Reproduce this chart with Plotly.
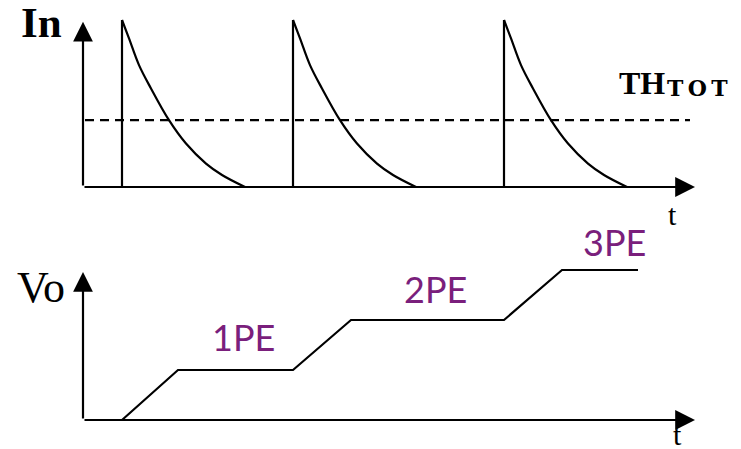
import plotly.graph_objects as go

# ---- data -------------------------------------------------------------
# Input current pulses: start times and a single pulse decay profile
pulse_starts = [3.9, 21.0, 42.1]
decay_dt = [0.0, 0.7, 1.7, 2.9, 4.7, 6.4, 8.4, 10.0, 12.3]
decay_amp = [1.0, 0.89, 0.73, 0.59, 0.40, 0.26, 0.14, 0.072, 0.0]
threshold = 0.40
threshold_end = 60.7

# Integrated output: staircase in photo-electron units
stair_t = [3.9, 9.5, 21.0, 26.8, 42.1, 47.9, 55.5]
stair_pe = [0, 1, 1, 2, 2, 3, 3]
pe_labels = ["1PE", "2PE", "3PE"]
pe_label_t = [16.0, 35.2, 53.1]
pe_label_y = [1.67, 2.62, 3.57]

axis_t_end = 61.2
top_axis_y_end = 0.99
bottom_axis_y_end = 2.96

# ---- layout geometry -----------------------------------------------------
W, H = 741, 449
PX_PER_T = 10.0
ORIGIN_PX = 83.0
TOP_BASE_PX, TOP_PX_PER_UNIT = 187.0, 167.0
BOT_BASE_PX, BOT_PX_PER_PE = 420.0, 50.0
SPLIT_PX = H / 2

x_range = [(0 - ORIGIN_PX) / PX_PER_T, (W - ORIGIN_PX) / PX_PER_T]
top_range = [(TOP_BASE_PX - SPLIT_PX) / TOP_PX_PER_UNIT, TOP_BASE_PX / TOP_PX_PER_UNIT]
bot_range = [(BOT_BASE_PX - H) / BOT_PX_PER_PE, (BOT_BASE_PX - SPLIT_PX) / BOT_PX_PER_PE]

INK = "#000000"
PURPLE = "#7a1f7c"
LW = 2.2

fig = go.Figure()

# vertical rising edges of each pulse
vx, vy = [], []
for t0 in pulse_starts:
    vx += [t0, t0, None]
    vy += [0, decay_amp[0], None]
fig.add_trace(go.Scatter(x=vx, y=vy, mode="lines", line=dict(color=INK, width=LW),
                         xaxis="x", yaxis="y", hoverinfo="skip"))

# exponential-like decay tails
dx, dy = [], []
for t0 in pulse_starts:
    dx += [t0 + d for d in decay_dt] + [None]
    dy += decay_amp + [None]
fig.add_trace(go.Scatter(x=dx, y=dy, mode="lines",
                         line=dict(color=INK, width=LW, shape="spline", smoothing=1.0),
                         xaxis="x", yaxis="y", hoverinfo="skip"))

# ToT threshold
fig.add_trace(go.Scatter(x=[0.2, threshold_end], y=[threshold, threshold], mode="lines",
                         line=dict(color=INK, width=LW, dash="9px,6px"),
                         xaxis="x", yaxis="y", hoverinfo="skip"))

# output staircase
fig.add_trace(go.Scatter(x=stair_t, y=stair_pe, mode="lines",
                         line=dict(color=INK, width=LW),
                         xaxis="x2", yaxis="y2", hoverinfo="skip"))

annotations = []


def arrow(xref, yref, x0, y0, x1, y1):
    annotations.append(dict(
        x=x1, y=y1, ax=x0, ay=y0, xref=xref, yref=yref, axref=xref, ayref=yref,
        text="", showarrow=True, arrowhead=2, arrowsize=1.8, arrowwidth=2.2,
        arrowcolor=INK, standoff=0, startstandoff=0))


# axes with arrowheads
arrow("x", "y", 0, 0, 0, top_axis_y_end)
arrow("x", "y", 0, 0, axis_t_end, 0)
arrow("x2", "y2", 0, 0, 0, bottom_axis_y_end)
arrow("x2", "y2", 0, 0, axis_t_end, 0)

serif = "Liberation Serif"


def label(text, xref, yref, x, y, size, bold=False, color=INK, family=serif, xanchor="center"):
    annotations.append(dict(
        x=x, y=y, xref=xref, yref=yref, text=f"<b>{text}</b>" if bold else text,
        showarrow=False, xanchor=xanchor, yanchor="middle",
        font=dict(family=family, size=size, color=color)))


label("In", "x", "y", -4.2, 0.985, 43, bold=True)
label("TH", "x", "y", 53.4, 0.623, 32, bold=True, xanchor="left")
label("T\u2009O\u2009T", "x", "y", 58.2, 0.59, 22, bold=True,
      family="DejaVu Serif", xanchor="left")
label("t", "x", "y", 58.9, -0.165, 30)
label("Vo", "x2", "y2", -4.2, 2.66, 44)
label("t", "x2", "y2", 59.4, -0.28, 30)
for txt, tx, ty in zip(pe_labels, pe_label_t, pe_label_y):
    label(txt, "x2", "y2", tx, ty, 36, color=PURPLE, family="Lato")

hidden = dict(visible=False, showgrid=False, zeroline=False, fixedrange=True)
fig.update_layout(
    width=W, height=H,
    margin=dict(l=0, r=0, t=0, b=0),
    paper_bgcolor="white", plot_bgcolor="white",
    showlegend=False,
    xaxis=dict(range=x_range, domain=[0, 1], anchor="y", **hidden),
    xaxis2=dict(range=x_range, domain=[0, 1], anchor="y2", **hidden),
    yaxis=dict(range=top_range, domain=[0.5, 1], anchor="x", **hidden),
    yaxis2=dict(range=bot_range, domain=[0, 0.5], anchor="x2", **hidden),
    annotations=annotations,
)

fig.write_html("out.html")
